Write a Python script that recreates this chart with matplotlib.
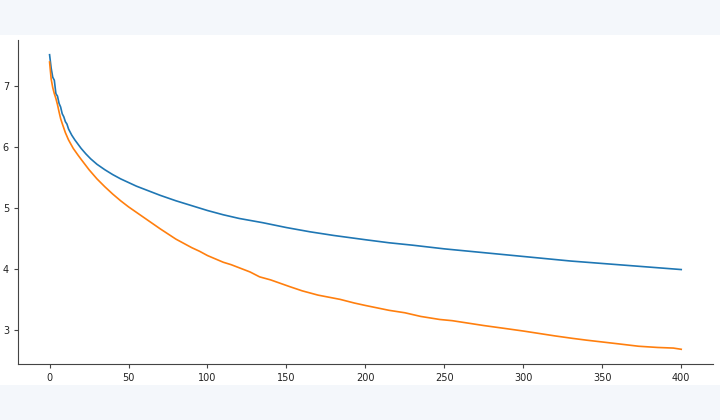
import numpy as np
from matplotlib import pyplot as plt
from matplotlib.patches import Rectangle

# blue curve
blue_x = [0, 1, 2, 3, 4, 5, 6, 7, 8, 9, 10, 11, 12, 14, 16, 18, 20, 23, 26,
          30, 35, 40, 45, 50, 55, 60, 70, 80, 90, 100, 110, 120, 135, 150,
          165, 180, 200, 215, 230, 250, 270, 290, 310, 330, 350, 375, 400]
blue_y = [7.52, 7.30, 7.15, 7.10, 6.88, 6.84, 6.72, 6.66, 6.55, 6.50, 6.42,
          6.38, 6.30, 6.20, 6.12, 6.05, 5.98, 5.89, 5.81, 5.72, 5.63, 5.55,
          5.48, 5.42, 5.36, 5.31, 5.21, 5.12, 5.04, 4.96, 4.89, 4.83, 4.76,
          4.68, 4.61, 4.55, 4.48, 4.43, 4.39, 4.33, 4.28, 4.23, 4.18, 4.13,
          4.09, 4.04, 3.99]

# orange curve
orange_x = [0, 1, 2, 3, 4, 5, 6, 7, 8, 10, 12, 15, 18, 20, 25, 30, 35, 40,
            45, 50, 60, 70, 80, 85, 90, 95, 100, 110, 115, 120, 127, 133, 140,
            152, 160, 170, 184, 193, 200, 215, 225, 235, 247, 255, 265, 275,
            289, 300, 310, 320, 331, 340, 350, 360, 373, 385, 395, 400]
orange_y = [7.40, 7.12, 6.98, 6.88, 6.80, 6.70, 6.58, 6.47, 6.39, 6.24, 6.12,
            5.98, 5.87, 5.80, 5.63, 5.48, 5.35, 5.23, 5.12, 5.02, 4.84, 4.66,
            4.49, 4.42, 4.35, 4.29, 4.22, 4.11, 4.07, 4.02, 3.95, 3.87, 3.82,
            3.71, 3.64, 3.57, 3.50, 3.44, 3.40, 3.32, 3.28, 3.22, 3.17, 3.15,
            3.11, 3.07, 3.02, 2.98, 2.94, 2.90, 2.86, 2.83, 2.80, 2.77, 2.73,
            2.71, 2.70, 2.68]

fig = plt.figure(figsize=(7.2, 4.2), dpi=100, facecolor="#f4f7fb")
fig.add_artist(Rectangle((0, 35 / 420), 1, 350 / 420, transform=fig.transFigure,
                         facecolor="white", edgecolor="none", zorder=-10))

ax = fig.add_axes([0.025, 0.1333, 0.965, 0.7715])
ax.set_zorder(1)
ax.set_facecolor("white")
ax.plot(blue_x, blue_y, color="#1f77b4", lw=1.2)
ax.plot(orange_x, orange_y, color="#ff7f0e", lw=1.2)

ax.set_xticks([0, 50, 100, 150, 200, 250, 300, 350, 400])
ax.set_yticks([3, 4, 5, 6, 7])
ax.tick_params(labelsize=7, length=3, color="#444444", labelcolor="#222222")
for s in ["top", "right"]:
    ax.spines[s].set_visible(False)
for s in ["left", "bottom"]:
    ax.spines[s].set_color("#444444")

fig.savefig("out.png", facecolor=fig.get_facecolor())
